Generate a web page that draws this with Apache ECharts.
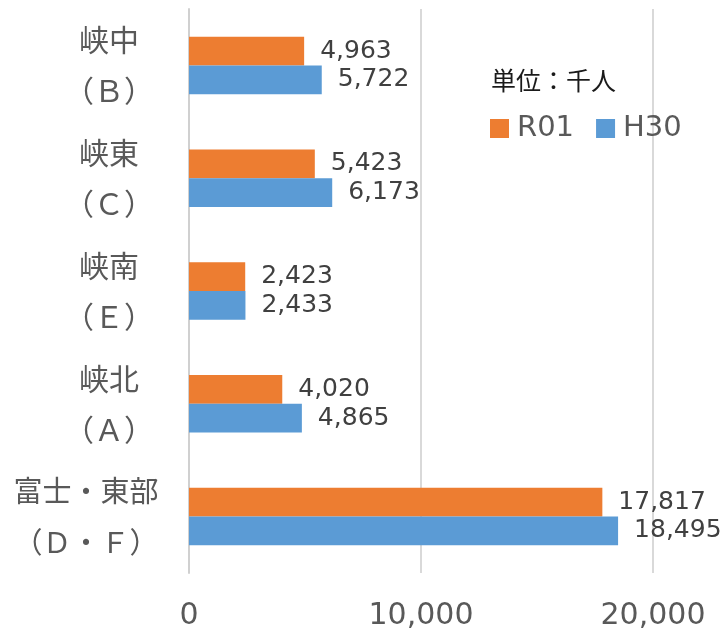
<!DOCTYPE html>
<html>
<head>
<meta charset="utf-8">
<script src="https://cdn.jsdelivr.net/npm/echarts@6/dist/echarts.min.js"></script>
<style>
  html, body { margin: 0; padding: 0; background: #fff; }
  #chart { width: 728px; height: 633px; }
</style>
</head>
<body>
<div id="chart"></div>
<script>
// regions, top to bottom (two lines each)
const regionNames = ['峡中', '峡東', '峡南', '峡北', '富士・東部'];
const regionCodes = ['（Ｂ）', '（Ｃ）', '（Ｅ）', '（Ａ）', '（Ｄ・Ｆ）'];
const seriesNames = ['R01', 'H30'];
const valuesR01 = [4963, 5423, 2423, 4020, 17817];
const valuesH30 = [5722, 6173, 2433, 4865, 18495];
const xTicks = [0, 10000, 20000];
const unitText = '単位：千人';

const categories = regionNames.map((n, i) => n + '\n' + regionCodes[i]);
const fmt = v => v.toLocaleString('en-US');

const chart = echarts.init(document.getElementById('chart'));

const labelStyle = {
  show: true,
  position: 'right',
  distance: 16,
  fontFamily: 'DejaVu Sans',
  fontSize: 25,
  color: '#404040',
  formatter: p => fmt(p.value)
};

const option = {
  animation: false,
  title: {
    text: unitText,
    left: 486,
    top: 63,
    textStyle: { fontFamily: 'Noto Sans CJK JP', fontSize: 25, fontWeight: 'normal', color: '#1a1a1a' }
  },
  legend: {
    data: seriesNames,
    left: 485,
    top: 109,
    itemWidth: 19,
    itemHeight: 19,
    itemGap: 22,
    icon: 'rect',
    textStyle: { fontFamily: 'DejaVu Sans', fontSize: 29, color: '#595959', padding: [0, 0, 0, 3] }
  },
  grid: { left: 189, right: 75, top: 9, bottom: 60, containLabel: false },
  xAxis: {
    type: 'value',
    min: xTicks[0],
    max: xTicks[xTicks.length - 1],
    interval: xTicks[1] - xTicks[0],
    axisLine: { show: false },
    axisTick: { show: false },
    splitLine: { lineStyle: { color: '#d9d9d9', width: 2 } },
    axisLabel: {
      margin: 28,
      fontFamily: 'DejaVu Sans',
      fontSize: 30,
      color: '#595959',
      formatter: v => fmt(v)
    }
  },
  yAxis: {
    type: 'category',
    inverse: true,
    data: categories,
    axisLine: { show: true, lineStyle: { color: '#d0d0d0', width: 2 } },
    axisTick: { show: false },
    axisLabel: {
      margin: 80,
      align: 'center',
      color: '#595959',
      fontFamily: 'Noto Sans CJK JP',
      fontSize: 30,
      lineHeight: 51,
      formatter: (v, i) => {
        const [a, b] = v.split('\n');
        const s = a.length > 3 ? 'w' : 'n';
        return '{' + s + '|' + a + '}\n{' + s + '|' + b + '}';
      },
      rich: {
        n: { fontFamily: 'Noto Sans CJK JP', fontSize: 30, lineHeight: 51, color: '#595959' },
        w: { fontFamily: 'Noto Sans CJK JP', fontSize: 29, lineHeight: 51, color: '#595959', padding: [0, 46, 0, 0] }
      }
    }
  },
  series: [
    {
      name: seriesNames[0],
      type: 'bar',
      data: valuesR01,
      barGap: '0%',
      barCategoryGap: '49%',
      itemStyle: { color: '#ED7D31' },
      label: labelStyle
    },
    {
      name: seriesNames[1],
      type: 'bar',
      data: valuesH30,
      barGap: '0%',
      barCategoryGap: '49%',
      itemStyle: { color: '#5B9BD5' },
      label: labelStyle
    }
  ]
};

chart.setOption(option);
</script>
</body>
</html>
